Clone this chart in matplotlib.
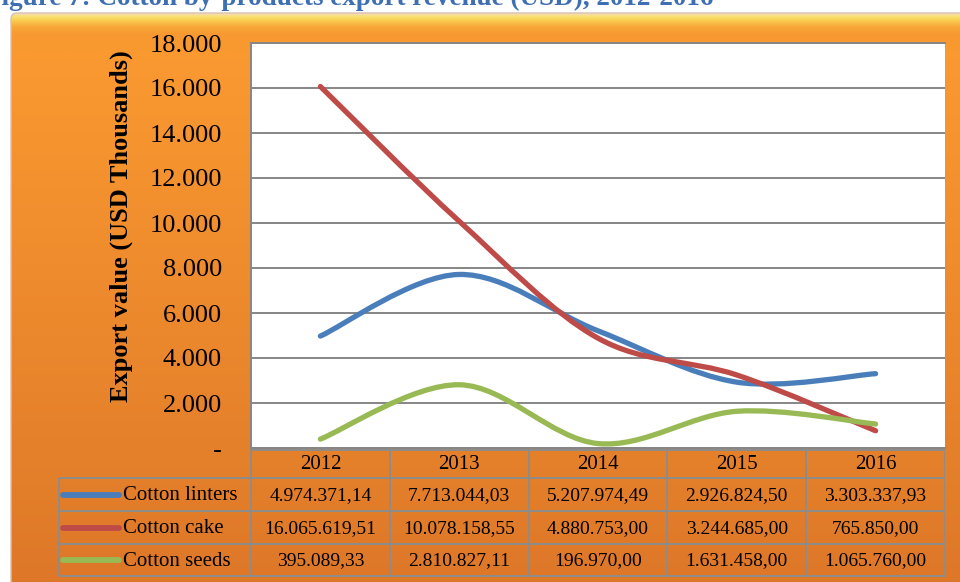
import numpy as np
import matplotlib
matplotlib.use("Agg")
import matplotlib.pyplot as plt
from matplotlib.path import Path
from matplotlib.patches import PathPatch, FancyBboxPatch
from matplotlib.ticker import FuncFormatter

plt.rcParams["font.family"] = ["Liberation Serif", "DejaVu Serif"]

# data (USD)
years = ["2012", "2013", "2014", "2015", "2016"]
series_names = ["Cotton linters", "Cotton cake", "Cotton seeds"]
linters = [4974371.14, 7713044.03, 5207974.49, 2926824.50, 3303337.93]
cake = [16065619.51, 10078158.55, 4880753.00, 3244685.00, 765850.00]
seeds = [395089.33, 2810827.11, 196970.00, 1631458.00, 1065760.00]
colors = ["#4A7EBB", "#BE4B48", "#98B954"]

title = "Figure 7: Cotton by-products export revenue (USD), 2012-2016"
ylabel = "Export value (USD Thousands)"
yticks = [0, 2000, 4000, 6000, 8000, 10000, 12000, 14000, 16000, 18000]


def euro(v, dec=2):
    s = f"{v:,.{dec}f}"
    return s.replace(",", "X").replace(".", ",").replace("X", ".")


def smooth_path(xs, ys):
    # excel-like smoothed line: catmull-rom as cubic bezier
    pts = np.column_stack([xs, ys]).astype(float)
    n = len(pts)
    verts = [pts[0]]
    codes = [Path.MOVETO]
    for i in range(n - 1):
        p0 = pts[max(i - 1, 0)]
        p1 = pts[i]
        p2 = pts[i + 1]
        p3 = pts[min(i + 2, n - 1)]
        verts += [p1 + (p2 - p0) / 6, p2 - (p3 - p1) / 6, p2]
        codes += [Path.CURVE4] * 3
    return Path(verts, codes)


W, H = 960, 582
fig = plt.figure(figsize=(W / 100, H / 100), dpi=100, facecolor="white")

# orange background panel with gradient
bg = fig.add_axes([0, 0, 1, 1], zorder=-10)
bg.set_xlim(0, W)
bg.set_ylim(H, 0)
bg.axis("off")
stops_y = [13, 16, 20, 26, 34, 60, 582]
stops_c = np.array([
    [0.97, 0.86, 0.72],
    [0.98, 0.88, 0.45],
    [0.98, 0.80, 0.32],
    [0.97, 0.66, 0.22],
    [0.97, 0.60, 0.19],
    [0.98, 0.60, 0.19],
    [0.87, 0.47, 0.16],
])
yy = np.arange(13, 583)
grad = np.stack([np.interp(yy, stops_y, stops_c[:, k]) for k in range(3)], axis=-1)
img = np.repeat(grad[:, None, :], 2, axis=1)
box = FancyBboxPatch((11, 13), 1000, 620, boxstyle="round,pad=0,rounding_size=6",
                     facecolor="none", edgecolor="#d9c2b0", linewidth=1.0)
bg.add_patch(box)
im = bg.imshow(img, extent=(11, 1011, 582, 13), aspect="auto", interpolation="bilinear")
im.set_clip_path(box)

# caption sits above the image edge, only its lower part shows
fig.text(713 / W, 1 - 5 / H, title, ha="right", va="baseline", color="#3E6FB2",
         fontsize=19.5, fontweight="bold")

# main plot
ax = fig.add_axes([251 / W, 1 - 448 / H, 694 / W, 405 / H])
ax.set_facecolor("white")
x = np.arange(len(years))
for vals, c in zip([linters, cake, seeds], colors):
    v = np.array(vals) / 1000
    ax.add_patch(PathPatch(smooth_path(x, v), facecolor="none", edgecolor=c,
                           linewidth=3.8, capstyle="round", joinstyle="round", zorder=3))
ax.set_xlim(-0.5, len(years) - 0.5)
ax.set_ylim(0, 18000)
ax.set_yticks(yticks)
ax.yaxis.set_major_formatter(FuncFormatter(lambda v, p: "-" if v == 0 else euro(v, 0)))
ax.set_xticks([])
ax.tick_params(axis="y", length=0, pad=21, labelsize=19)
ax.grid(axis="y", color="#868686", linewidth=1.4)
ax.set_axisbelow(True)
for s in ["left", "top", "bottom"]:
    ax.spines[s].set_color("#868686")
    ax.spines[s].set_linewidth(1.4)
ax.spines["right"].set_visible(False)

fig.text(121 / W, 1 - 226 / H, ylabel, rotation=90, ha="center", va="center",
         fontsize=19, fontweight="bold")

# data table below the plot
col_w = 694 / len(years)
left_x = -0.5 - 193 / col_w
tax = fig.add_axes([58 / W, 1 - 577 / H, (945 - 58) / W, (577 - 449) / H])
tax.set_xlim(left_x, len(years) - 0.5)
tax.set_ylim(128, 0)
tax.axis("off")
row_edges = [0, 29, 62, 95, 127]
gc = "#8C8C8C"
lw = 1.4
tax.vlines(np.arange(len(years) + 1) - 0.5, 0, row_edges[-1], color=gc, lw=lw)
tax.vlines(left_x + 0.005, row_edges[1], row_edges[-1], color=gc, lw=lw)
tax.hlines(row_edges[0] + 0.5, -0.5, len(years) - 0.5, color=gc, lw=lw)
tax.hlines(row_edges[1:], left_x + 0.005, len(years) - 0.5, color=gc, lw=lw)

for i, yr in enumerate(years):
    tax.text(i, (row_edges[0] + row_edges[1]) / 2 + 1, yr, ha="center", va="center", fontsize=15)

for r, (name, vals, c) in enumerate(zip(series_names, [linters, cake, seeds], colors)):
    yc = (row_edges[r + 1] + row_edges[r + 2]) / 2
    tax.plot([left_x + 5 / col_w, left_x + 61 / col_w], [yc, yc], color=c, lw=4.2,
             solid_capstyle="round")
    tax.text(left_x + 65 / col_w, yc + 1, name, ha="left", va="center", fontsize=15)
    for i, v in enumerate(vals):
        tax.text(i, yc + 1, euro(v), ha="center", va="center", fontsize=14)

fig.savefig("out.png", dpi=100, facecolor="white")
